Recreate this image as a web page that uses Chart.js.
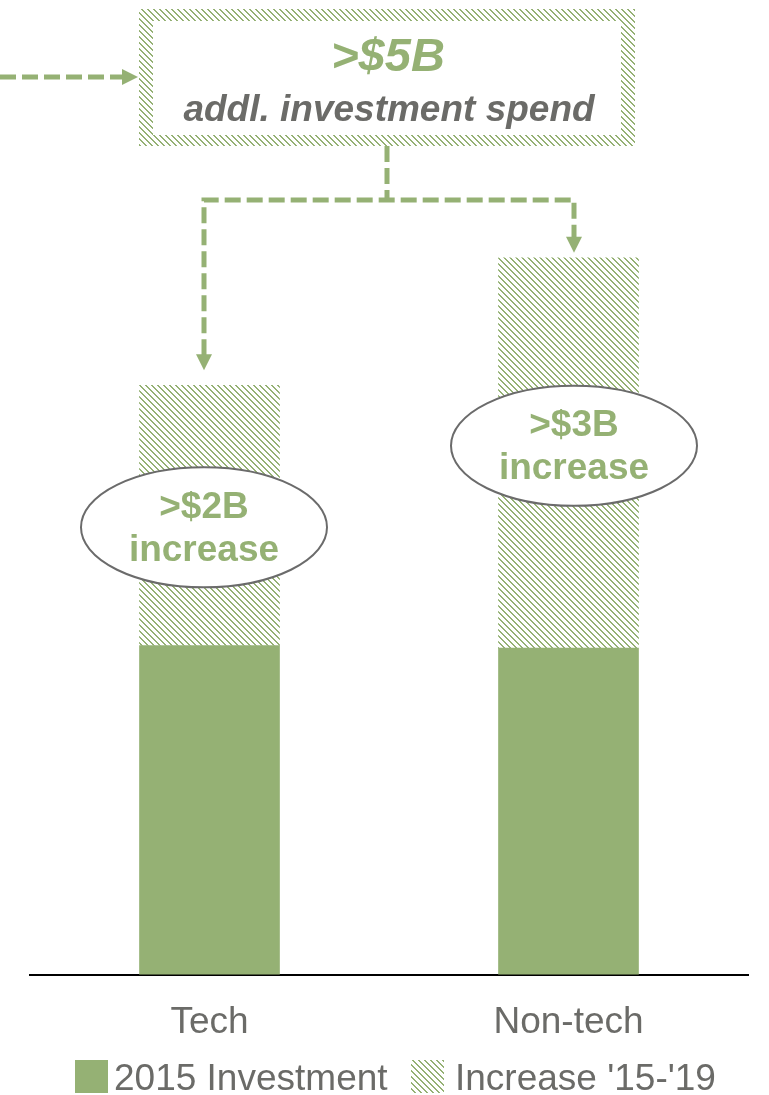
<!DOCTYPE html>
<html>
<head>
<meta charset="utf-8">
<title>Investment spend</title>
<script src="https://cdn.jsdelivr.net/npm/chart.js@4.4.1/dist/chart.umd.min.js"></script>
<style>
  html, body { margin: 0; padding: 0; background: #fff; }
  #wrap { width: 769px; height: 1095px; }
</style>
</head>
<body>
<div id="wrap"><canvas id="chart" width="769" height="1095"></canvas></div>
<script>
// data ($B)
const categories = ['Tech', 'Non-tech'];
const investment2015 = [2.53, 2.51];
const increase1519 = [2, 3];
const seriesNames = ['2015 Investment', "Increase '15-'19"];
const yMax = 7;

const FONT = "'Liberation Sans', Arial, sans-serif";
const GREEN = '#95b174';
const GREY = '#6b6b68';

const canvas = document.getElementById('chart');
const ctx = canvas.getContext('2d');

// diagonal "\" hatch used for the increase segment
function makeHatch(color) {
  const tile = document.createElement('canvas');
  tile.width = 6;
  tile.height = 6;
  const g = tile.getContext('2d');
  g.fillStyle = color;
  for (let y = 0; y < 6; y++) {
    for (let x = 0; x < 6; x++) {
      const d = ((x - y) % 6 + 6) % 6;
      if (d === 0 || d === 1) g.fillRect(x, y, 1, 1);
    }
  }
  return ctx.createPattern(tile, 'repeat');
}
const hatch = makeHatch(GREEN);

// callout tweaks per bar
const calloutShift = [-6, 5];
const calloutDrop = [142, 188];
const arrowGap = [15, 5];

function dashedPath(c, pts) {
  c.beginPath();
  c.moveTo(pts[0][0], pts[0][1]);
  for (let i = 1; i < pts.length; i++) c.lineTo(pts[i][0], pts[i][1]);
  c.stroke();
}

function arrowHead(c, x, y, dir) {
  c.beginPath();
  if (dir === 'right') {
    c.moveTo(x, y);
    c.lineTo(x - 16, y - 8);
    c.lineTo(x - 16, y + 8);
  } else {
    c.moveTo(x, y);
    c.lineTo(x - 8, y - 16);
    c.lineTo(x + 8, y - 16);
  }
  c.closePath();
  c.fill();
}

const annotations = {
  id: 'annotations',
  afterDraw(chart) {
    const c = chart.ctx;
    const tops = chart.getDatasetMeta(1).data;
    const total = increase1519.reduce((a, b) => a + b, 0);

    c.save();

    // summary box with hatched frame
    c.fillStyle = hatch;
    c.fillRect(139, 9, 496, 137);
    c.fillStyle = '#fff';
    c.fillRect(153, 21, 468, 114);
    c.textAlign = 'center';
    c.textBaseline = 'alphabetic';
    c.fillStyle = GREEN;
    c.font = 'italic bold 47px ' + FONT;
    c.fillText('>$' + total + 'B', 388, 71);
    c.fillStyle = GREY;
    c.font = 'italic bold 37px ' + FONT;
    c.fillText('addl. investment spend', 389, 121);

    // dashed connectors
    const xs = tops.map((b, i) => Math.round(b.x + calloutShift[i]));
    const tips = tops.map((b, i) => b.y - arrowGap[i]);
    c.strokeStyle = GREEN;
    c.fillStyle = GREEN;
    c.lineWidth = 5;
    c.setLineDash([16, 6]);
    dashedPath(c, [[0, 77], [122, 77]]);
    dashedPath(c, [[387, 146], [387, 200]]);
    dashedPath(c, [[xs[0], tips[0] - 15], [xs[0], 200], [xs[1], 200], [xs[1], tips[1] - 15]]);
    c.setLineDash([]);
    arrowHead(c, 138, 77, 'right');
    arrowHead(c, xs[0], tips[0], 'down');
    arrowHead(c, xs[1], tips[1], 'down');

    // increase callouts
    tops.forEach((b, i) => {
      const cx = xs[i];
      const cy = b.y + calloutDrop[i];
      c.beginPath();
      c.ellipse(cx, cy, 123, 60, 0, 0, Math.PI * 2);
      c.fillStyle = '#fff';
      c.fill();
      c.lineWidth = 2;
      c.strokeStyle = '#6b6b6b';
      c.stroke();
      c.fillStyle = GREEN;
      c.font = 'bold 37px ' + FONT;
      c.textBaseline = 'middle';
      c.fillText('>$' + increase1519[i] + 'B', cx, cy - 20);
      c.fillText('increase', cx, cy + 23);
    });

    // legend
    const ds = chart.data.datasets;
    const items = [[75, 33, 114], [411, 33, 455]];
    c.font = '37px ' + FONT;
    c.textAlign = 'left';
    c.textBaseline = 'alphabetic';
    ds.forEach((d, i) => {
      const [bx, bw, tx] = items[i];
      c.fillStyle = d.backgroundColor;
      c.fillRect(bx, 1060, bw, 33);
      c.fillStyle = GREY;
      c.fillText(d.label, tx, 1090);
    });

    c.restore();
  }
};

new Chart(ctx, {
  type: 'bar',
  data: {
    labels: categories,
    datasets: [
      { label: seriesNames[0], data: investment2015, backgroundColor: GREEN, barThickness: 140 },
      { label: seriesNames[1], data: increase1519, backgroundColor: hatch, barThickness: 140 }
    ]
  },
  options: {
    responsive: false,
    animation: false,
    layout: { padding: { left: 30, right: 21, top: 64, bottom: 24 } },
    plugins: {
      legend: { display: false },
      tooltip: { enabled: false }
    },
    scales: {
      x: {
        stacked: true,
        grid: { display: false, drawTicks: false },
        border: { display: true, color: '#000', width: 2 },
        ticks: { color: GREY, padding: 26, font: { family: FONT, size: 37 } }
      },
      y: {
        stacked: true,
        display: false,
        min: 0,
        max: yMax
      }
    }
  },
  plugins: [annotations]
});
</script>
</body>
</html>
